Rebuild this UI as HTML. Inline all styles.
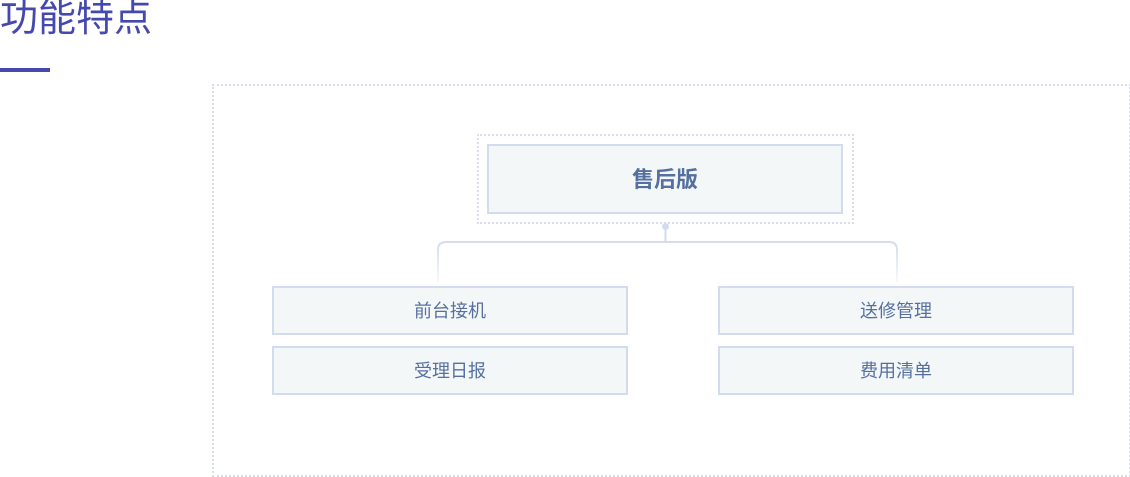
<!DOCTYPE html>
<html><head><meta charset="utf-8"><style>
body{margin:0;width:1130px;height:476px;background:#fff;position:relative;overflow:hidden;font-family:"Liberation Sans","Noto Sans CJK SC",sans-serif}
.t{position:absolute;left:0;top:-3px;font-size:38px;color:#4549ae;letter-spacing:0px;line-height:44px}
.u{position:absolute;left:0;top:68px;width:50px;height:4px;background:#4549ae}
.outer{position:absolute;left:212px;top:84px;width:915px;height:389px;border:2px dotted #d8dcec}
.rdot{position:absolute;left:477px;top:134px;width:373px;height:86px;border:2px dotted #d8dcec}
.box{position:absolute;box-sizing:border-box;border:2px solid #d3dcee;background:#f4f7f8;color:#5570a0;display:flex;align-items:center;justify-content:center;font-size:18px;padding-bottom:2px}
</style></head><body>
<div class="t">功能特点</div><div class="u"></div>
<div class="outer"></div>
<div class="rdot"></div>
<div class="box" style="left:487px;top:144px;width:356px;height:70px;font-size:22px;font-weight:bold">售后版</div>
<svg style="position:absolute;left:0;top:0" width="1130" height="476">
<defs><linearGradient id="g" x1="0" y1="0" x2="0" y2="1"><stop offset="0" stop-color="#d3dcee"/><stop offset="1" stop-color="#d3dcee" stop-opacity="0.2"/></linearGradient></defs>
<circle cx="665.5" cy="226.5" r="3.5" fill="#d3dcee"/>
<line x1="665.5" y1="226" x2="665.5" y2="242" stroke="#d3dcee" stroke-width="2"/>
<path d="M438 282 V250 Q438 242 446 242 H889 Q897 242 897 250 V282" fill="none" stroke="url(#g)" stroke-width="2"/>
</svg>
<div class="box" style="left:272px;top:286px;width:356px;height:49px">前台接机</div>
<div class="box" style="left:272px;top:346px;width:356px;height:49px">受理日报</div>
<div class="box" style="left:718px;top:286px;width:356px;height:49px">送修管理</div>
<div class="box" style="left:718px;top:346px;width:356px;height:49px">费用清单</div>
</body></html>
